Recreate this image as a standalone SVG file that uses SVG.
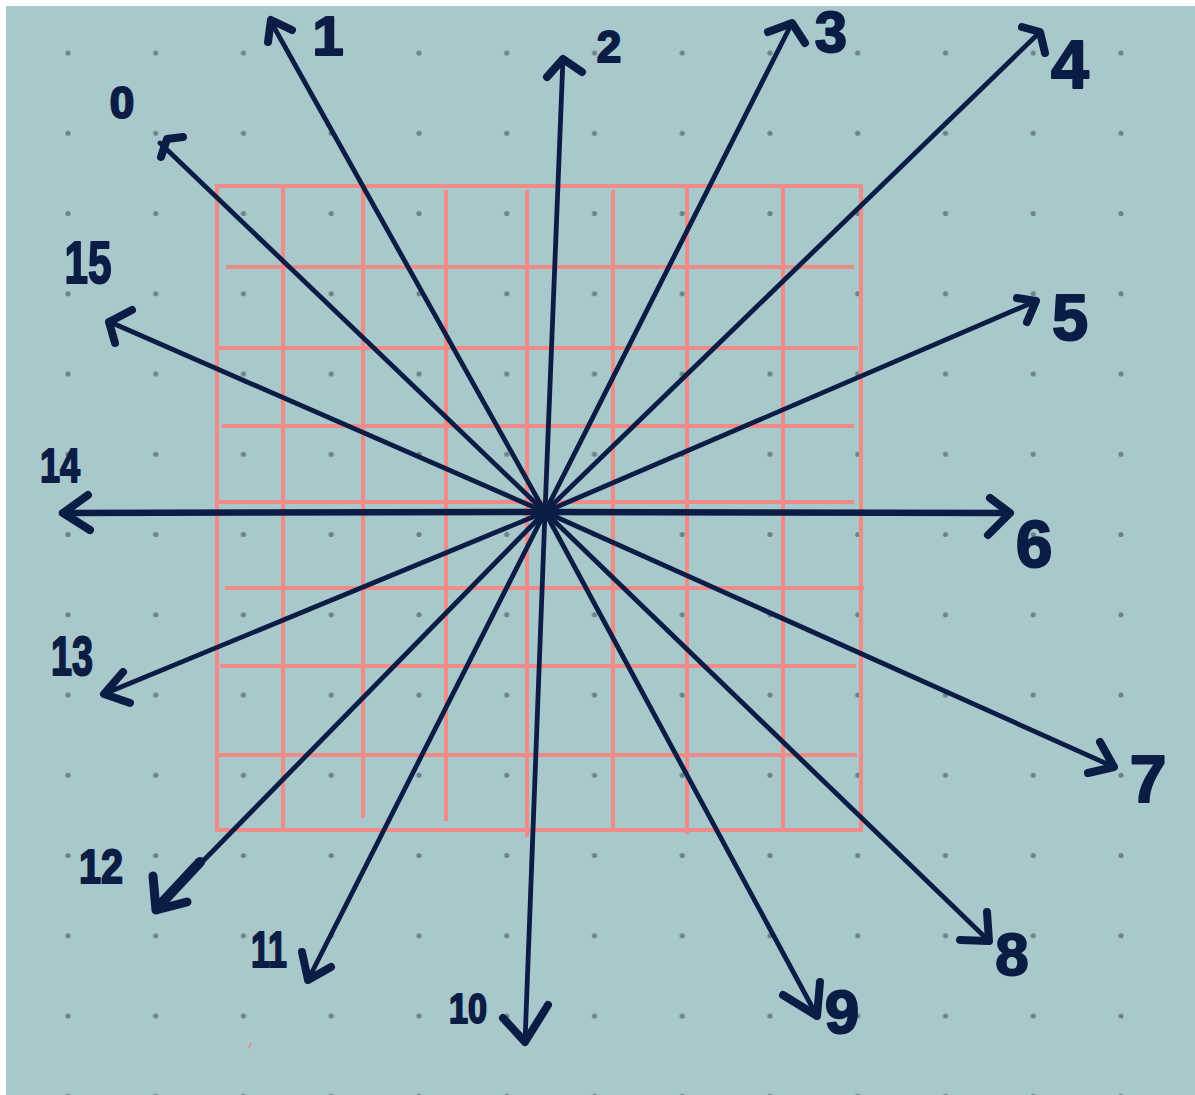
<svg xmlns="http://www.w3.org/2000/svg" width="1195" height="1095" viewBox="0 0 1195 1095">
<defs>
<pattern id="dots" patternUnits="userSpaceOnUse" x="24.125" y="12.875" width="87.75" height="80.25">
<circle cx="43.875" cy="40.125" r="2.6" fill="#6b8584"/>
</pattern>
<style>
.grid{stroke:#f08b89;stroke-width:4;fill:none;stroke-linecap:butt}
.shaft{stroke:#0b1c45;stroke-width:4.8;fill:none;stroke-linecap:round}
.head{stroke:#0b1c45;stroke-width:8;fill:none;stroke-linecap:round;stroke-linejoin:round}
.lbl{font-family:"Liberation Sans",Arial,sans-serif;font-weight:700;fill:#0b1c45;stroke:#0b1c45;stroke-width:2;stroke-linejoin:round;text-anchor:middle}
</style>
</defs>
<rect width="1195" height="1095" fill="#ffffff"/>
<rect x="6" y="6" width="1189" height="1089" fill="#a8c8cc"/>
<rect x="6" y="6" width="1189" height="1089" fill="url(#dots)"/>
<g id="grid">
<line class="grid" x1="217" y1="186" x2="861" y2="186"/>
<line class="grid" x1="217" y1="830" x2="861" y2="830"/>
<line class="grid" x1="217" y1="184" x2="217" y2="832"/>
<line class="grid" x1="861" y1="184" x2="861" y2="832"/>
<line class="grid" x1="226" y1="267" x2="854" y2="267"/>
<line class="grid" x1="219" y1="348" x2="858" y2="348"/>
<line class="grid" x1="222" y1="426" x2="854" y2="426"/>
<line class="grid" x1="217" y1="502" x2="854" y2="502"/>
<line class="grid" x1="225" y1="588" x2="864" y2="588"/>
<line class="grid" x1="220" y1="666" x2="856" y2="666"/>
<line class="grid" x1="217" y1="755" x2="857" y2="755"/>
<line class="grid" x1="283" y1="186" x2="283" y2="830"/>
<line class="grid" x1="363" y1="186" x2="363" y2="818"/>
<line class="grid" x1="446" y1="190" x2="446" y2="821"/>
<line class="grid" x1="527" y1="190" x2="527" y2="837"/>
<line class="grid" x1="613" y1="190" x2="613" y2="830"/>
<line class="grid" x1="687" y1="186" x2="687" y2="834"/>
<line class="grid" x1="783" y1="186" x2="783" y2="830"/>
<line stroke="#f08b89" stroke-width="2" x1="251" y1="1043" x2="249" y2="1048"/>
</g>
<g id="connectors">
<line class="shaft" x1="545" y1="512" x2="160" y2="143"/>
<polyline class="head" points="183,137 167,139 161,157"/>
<line class="shaft" x1="545" y1="512" x2="270" y2="20"/>
<polyline class="head" points="292,30 271,20 268,42"/>
<line class="shaft" x1="545" y1="512" x2="563" y2="58"/>
<polyline class="head" points="547,77 563,59 582,72"/>
<line class="shaft" x1="545" y1="512" x2="792" y2="23"/>
<polyline class="head" points="768,32 792,23 805,43"/>
<line class="shaft" x1="545" y1="512" x2="1040" y2="32"/>
<polyline class="head" points="1022,27 1040,32 1045,53"/>
<line class="shaft" x1="545" y1="512" x2="1036" y2="301"/>
<polyline class="head" points="1017,298 1036,301 1027,322"/>
<line class="shaft" x1="545" y1="512" x2="1010" y2="513" style="stroke-width:6.5"/>
<polyline class="head" points="990,498 1010,513 988,535"/>
<line class="shaft" x1="545" y1="512" x2="1114" y2="767"/>
<polyline class="head" points="1100,742 1114,767 1088,773"/>
<line class="shaft" x1="545" y1="512" x2="989" y2="941"/>
<polyline class="head" points="987,912 989,941 960,940"/>
<line class="shaft" x1="545" y1="512" x2="817" y2="1016"/>
<polyline class="head" points="820,982 817,1016 783,995"/>
<line class="shaft" x1="545" y1="512" x2="525" y2="1042"/>
<polyline class="head" points="503,1018 525,1042 548,1005"/>
<line class="shaft" x1="545" y1="512" x2="308" y2="980"/>
<polyline class="head" points="302,952 308,980 331,967"/>
<line class="shaft" x1="545" y1="512" x2="157" y2="908"/>
<line class="head" x1="200" y1="862" x2="158" y2="907" style="stroke-width:10"/>
<polyline class="head" points="153,876 156,910 187,902" style="stroke-width:9"/>
<line class="shaft" x1="545" y1="512" x2="104" y2="694"/>
<polyline class="head" points="123,672 104,694 130,703"/>
<line class="shaft" x1="545" y1="512" x2="62" y2="513" style="stroke-width:6.5"/>
<polyline class="head" points="88,495 63,513 90,530"/>
<line class="shaft" x1="545" y1="512" x2="110" y2="322"/>
<polyline class="head" points="132,310 109,322 115,343"/>
</g>
<g id="label-0"><text class="lbl" x="122" y="118" font-size="44">0</text></g>
<g id="label-1"><text class="lbl" x="328" y="55" font-size="56">1</text></g>
<g id="label-2"><text class="lbl" x="609" y="62" font-size="44">2</text></g>
<g id="label-3"><text class="lbl" x="831" y="52" font-size="58">3</text></g>
<g id="label-4"><text class="lbl" x="1070" y="88" font-size="68">4</text></g>
<g id="label-5"><text class="lbl" x="1070" y="340" font-size="65">5</text></g>
<g id="label-6"><text class="lbl" x="1034" y="567" font-size="66">6</text></g>
<g id="label-7"><text class="lbl" x="1148" y="802" font-size="66">7</text></g>
<g id="label-8"><text class="lbl" x="1012" y="975" font-size="60">8</text></g>
<g id="label-9"><text class="lbl" x="842" y="1033" font-size="62">9</text></g>
<g id="label-10"><text class="lbl" x="468" y="1023" font-size="42" textLength="38" lengthAdjust="spacingAndGlyphs">10</text></g>
<g id="label-11"><text class="lbl" x="269" y="967" font-size="50" textLength="36" lengthAdjust="spacingAndGlyphs">11</text></g>
<g id="label-12"><text class="lbl" x="101" y="883" font-size="48" textLength="44" lengthAdjust="spacingAndGlyphs">12</text></g>
<g id="label-13"><text class="lbl" x="72" y="675" font-size="55" textLength="42" lengthAdjust="spacingAndGlyphs">13</text></g>
<g id="label-14"><text class="lbl" x="60" y="482" font-size="49" textLength="40" lengthAdjust="spacingAndGlyphs">14</text></g>
<g id="label-15"><text class="lbl" x="88" y="283" font-size="60" textLength="47" lengthAdjust="spacingAndGlyphs">15</text></g>
</svg>
